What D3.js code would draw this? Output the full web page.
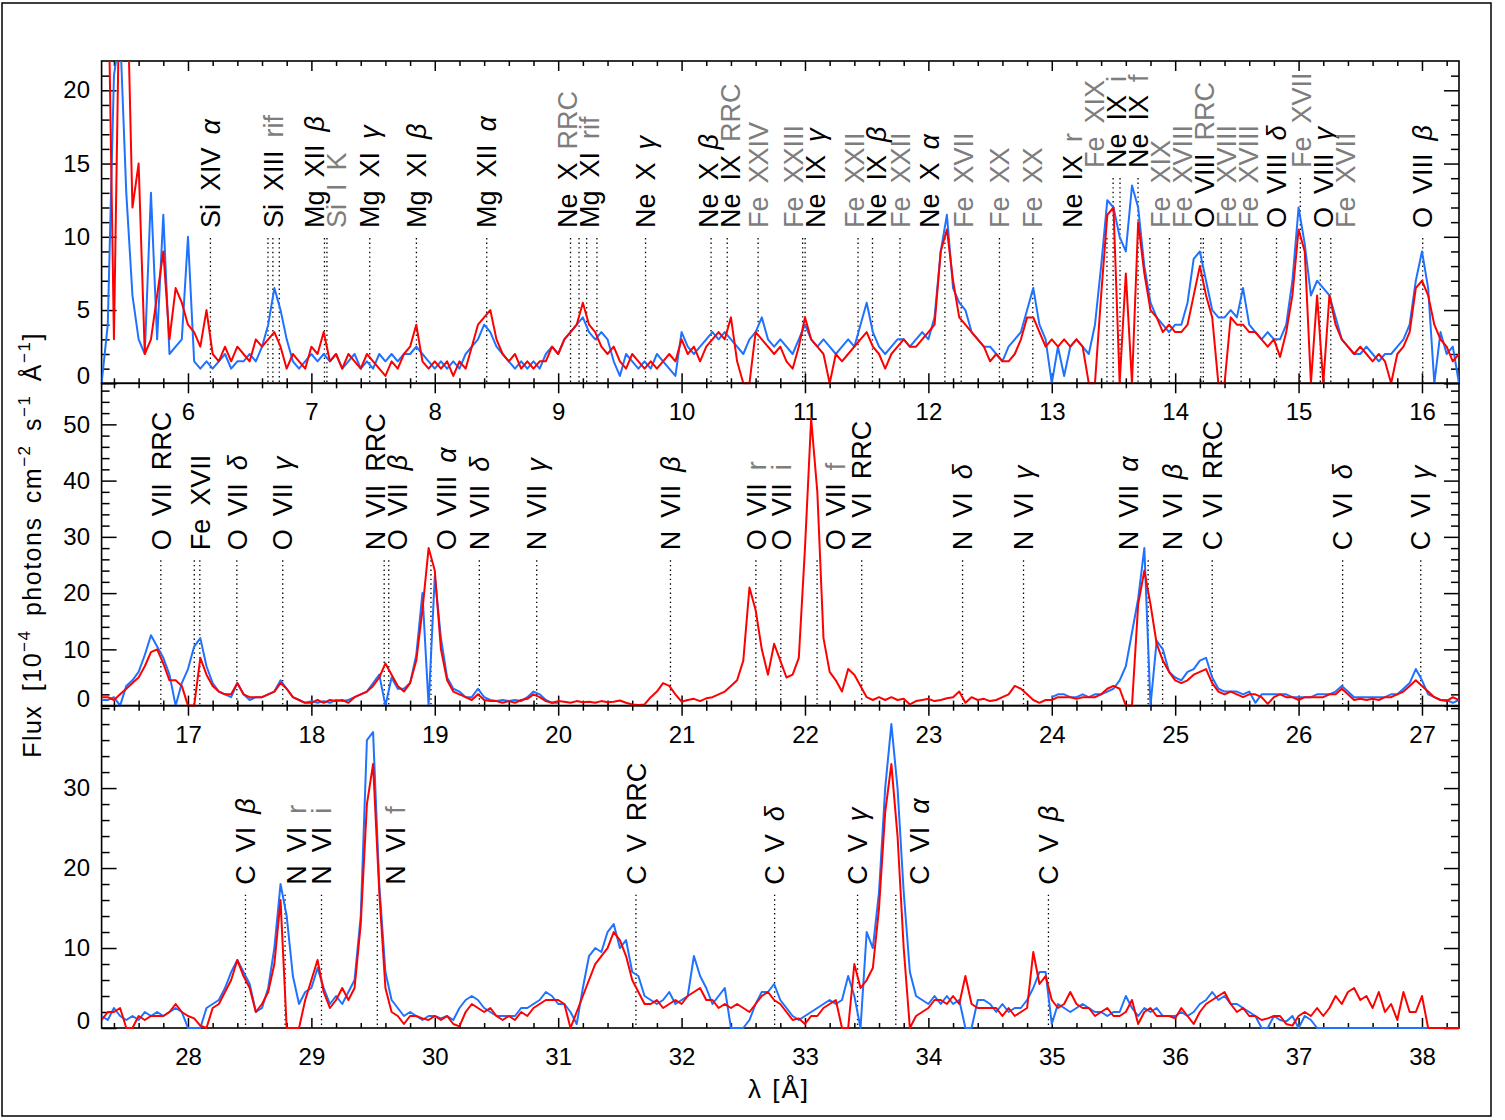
<!DOCTYPE html>
<html>
<head>
<meta charset="utf-8">
<script src="https://cdn.jsdelivr.net/npm/d3@7/dist/d3.min.js"></script>
<style>
  body { margin: 0; background: #fff; }
  svg { display: block; }
</style>
</head>
<body>
<svg id="chart" width="1505" height="1120"></svg>
<script>
// ---- data -------------------------------------------------------------
// wavelength range of each panel (Å); spectra are sampled every binWidth
const panelRanges = [[5.3, 16.3], [16.3, 27.3], [27.3, 38.3]];
const binWidth = 0.05;
const yMaxes = [22, 57.3, 40.3];

const xTicks1 = [6, 7, 8, 9, 10, 11, 12, 13, 14, 15, 16];
const xTicks2 = [17, 18, 19, 20, 21, 22, 23, 24, 25, 26, 27];
const xTicks3 = [28, 29, 30, 31, 32, 33, 34, 35, 36, 37, 38];
const yTicks1 = [0, 5, 10, 15, 20];
const yTicks2 = [0, 10, 20, 30, 40, 50];
const yTicks3 = [0, 10, 20, 30];

// flux in 1e-4 photons cm^-2 s^-1 Å^-1, first value at the panel's start
const blueFlux1 = [
  0,4,21,24,13,6,3,2,13,3,              // 5.30
  11.5,2,2.5,3,10,1.5,1,1.5,1,1.5,      // 5.80
  2,1,1.5,1.5,2,1.5,2.5,4,6.5,5,        // 6.30
  3,1.5,1,1.5,2,1.5,2,1.5,2,1,          // 6.80
  1.5,2,1,1.5,1,2,1.5,2,1.5,2,          // 7.30
  2,2.5,2,1.5,1,1.5,1,1.5,1,2,          // 7.80
  2.5,3,4,3.5,2.5,2,1.5,1,1.5,1,        // 8.30
  1.5,1,2,2.5,2,3,3.5,4,4.5,3.5,        // 8.80
  3,3.5,3,1.5,0.5,2,1.5,1,1.5,1,        // 9.30
  2,1.5,1,0.5,3.5,2.5,2,2.5,3,3.5,      // 9.80
  3,3.5,3,2.5,2,3,3.5,4.5,3,2.5,        // 10.30
  3,2.5,2,3,4,3,2.5,3,2.5,2,            // 10.80
  2.5,3,2.5,4,5.5,3.5,2.5,2,2.5,3,      // 11.30
  3,2.5,3,3.5,3,4.5,9,11.5,6.5,5.5,     // 11.80
  5,3.5,3,2.5,2.5,2,1.5,2.5,3,3.5,      // 12.30
  5,6.5,4,3,0,2.5,0.5,2.5,3,2.5,        // 12.80
  2,4,8,12.5,12,10,9,13.5,12,8,         // 13.30
  5.5,4.5,4,3.5,4,4,5.5,8.5,9,7,        // 13.80
  5,4.5,4.5,5,4.5,6.5,4,3.5,3,3.5,      // 14.30
  3,3,4,7,12,9.5,6,7,6.5,6,             // 14.80
  4.5,3,2.5,2,2,2.5,2,1.5,2,2,          // 15.30
  2.5,3,4,7,9,6.5,0,3.5,2,2.5,          // 15.80
  0                                     // 16.30
];
const redFlux1 = [
  26,30,3,30,30,12,15,2,3,6,            // 5.30
  9,3,6.5,5.5,4,3.5,2.5,5,2,1.5,        // 5.80
  2.5,1.5,2.5,2,1.5,3,2.5,3,3.5,2.5,    // 6.30
  1,2,1.5,1,2.5,2,3.5,1.5,2,1,          // 6.80
  2,1.5,1,2,1.5,1,0.5,1.5,1,2,          // 7.30
  2.5,4,1.5,1,1.5,1,1.5,0.5,1.5,1,      // 7.80
  2.5,4,4.5,5,3,2,1.5,2,1,1.5,          // 8.30
  1,1.5,1.5,2.5,2,3,3.5,4,5.5,4,        // 8.80
  3.5,2.5,2,2.5,1.5,1,2,1.5,1,1.5,      // 9.30
  1,1.5,2,1.5,3,2,2.5,1.5,2.5,3,        // 9.80
  3.5,3,4.5,1.5,0,0,3.5,3,2.5,2,        // 10.30
  2.5,1.5,1,2.5,4.5,3,2.5,2,0,2,        // 10.80
  1.5,2,2.5,3,3.5,2.5,2,1,2,2.5,        // 11.30
  3,2.5,2.5,3,3.5,4,9,10.5,7,4.5,       // 11.80
  4,3.5,3,2.5,1.5,2,1.5,1.5,2,3,        // 12.30
  4.5,4.5,3.5,2.5,3,2.5,3,2.5,3,2.5,    // 12.80
  0,0,6,11.5,12,0,7.5,0,11,7.5,         // 13.30
  5,4.5,3.5,4,3.5,3.5,4,6,8,6,          // 13.80
  4.5,0,0,4.5,4,4,3.5,3.5,3,2.5,        // 14.30
  3,1.8,3.5,6,10.5,9,0,6,0,6,           // 14.80
  4,3,2.5,2,2.5,2,1.5,2,1.5,0,          // 15.30
  2,2.5,3.5,6.5,7,6,4,3,2.5,1.5,        // 15.80
  2                                     // 16.30
];

const blueFlux2 = [
  1,1,1.5,0,3.5,4.5,6,9,12.5,10.5,      // 16.30
  8.5,5.5,0,4,6.5,10.5,12,7,4,2.5,      // 16.80
  2,1.5,4,2,1,1.5,1.5,2,2.5,4.5,        // 17.30
  3,1.5,1,0.5,0.8,0.5,0.8,0.5,1,0.8,    // 17.80
  1,1.5,2,2.5,4,5.5,0,5,3,3,            // 18.30
  4,9,20,0,23,12,5,3,2.5,1.5,           // 18.80
  1.5,3,1.5,1,0.8,1,0.8,1,0.8,1.5,      // 19.30
  2.5,2,1,0.5,0.5,null,null,null,null,null,            // 19.80
  null,null,null,null,null,null,null,null,null,null,   // 20.30
  null,null,null,null,null,null,null,null,null,null,   // 20.80
  null,null,null,null,null,null,null,null,null,null,   // 21.30
  null,null,null,null,null,null,null,null,null,null,   // 21.80
  null,null,null,null,null,null,null,null,null,null,   // 22.30
  null,null,null,null,null,null,null,null,null,null,   // 22.80
  null,null,null,null,null,null,null,null,null,null,   // 23.30
  null,null,null,null,1.5,2,2,1.5,1.5,2,               // 23.80
  1.5,2,2,2.5,3,4.5,7,13,19,28,         // 24.30
  0,11.5,10,6,5,4.5,6,6.5,8,8.5,        // 24.80
  5,3,2.5,2.5,2.5,2,2.5,0.5,2,2,        // 25.30
  2,2,2,1.5,1.5,1.5,1.5,2,2,2,          // 25.80
  2.5,3.5,2.5,1.5,1.5,1.5,1.5,1.5,1.5,2, // 26.30
  2,3,4,6.5,4.5,2,1.5,1,1,0.5,          // 26.80
  1                                     // 27.30
];
const redFlux2 = [
  1.5,1.5,1,2,3,4,5,7,9.5,10,           // 16.30
  7.5,4.5,4.5,3.5,0,0,8.5,5.5,3.5,2.5,  // 16.80
  2,2,4,2,1.5,1.5,1.5,2,2.5,4,          // 17.30
  3,1.5,1,0.5,0.5,1,0.5,1,0.8,1,        // 17.80
  0.5,1.5,2,2.5,3.5,5,7.5,5.5,3.5,2.5,  // 18.30
  4,8,17,28,24,10,4.5,2.5,2,1.5,        // 18.80
  1,2,1,0.8,0.8,0.5,0.8,0.5,1,1.2,      // 19.30
  2,1.5,0.8,0.5,0.8,0.7,0.5,0.8,0.6,0.7, // 19.80
  0.5,0.8,0.6,0.7,0.9,0.5,0.2,0.1,0.2,1.5, // 20.30
  2.5,4,3.5,2,0.7,1,1.2,0.8,1.3,1.5,    // 20.80
  2,2.5,3.5,4.5,8,21,17,10,5.5,11,      // 21.30
  8,5,5.5,8.5,28,51,38,12,6,4.5,        // 21.80
  2.5,6.5,5.5,3.5,1.5,1,1.5,1,1.5,1,    // 22.30
  1.2,0.2,0.8,1,1.2,0.8,1,1.3,1.5,2.5,  // 22.80
  0.5,1.5,1,1.2,0.8,1,1.5,2,3.5,3,      // 23.30
  2,1,0.5,1,1,1.5,1.5,1.5,1.2,1.5,      // 23.80
  1.5,1.5,2,3,3.5,3,0,0,18,24,          // 24.30
  18,11,8,6,4.5,4,4.5,5.5,6,6.5,        // 24.80
  4,2.5,2,2.5,2,1.5,2,2,1.5,0.3,        // 25.30
  1.5,2,1.5,1.5,1,1.5,1.5,1.5,1.5,2,    // 25.80
  2,3,2,1,1.2,1,1.2,1,1.5,1.5,          // 26.30
  2,2.5,3.5,4.5,3.5,2.5,1.5,1,0.8,1.5,  // 26.80
  1                                     // 27.30
];

const blueFlux3 = [
  1.5,1,2.5,1.5,1,1.5,1,2,1.5,2,        // 27.30
  1.5,2,2.5,2,0,0,0,2.5,3,3.5,          // 27.80
  5,7,8.5,7,5.5,2,2.5,5,10,18,          // 28.30
  14,6.5,3,4.5,5,7.5,5,3,4,3,           // 28.80
  4.5,6,14,36,37,18,7,3.5,2.5,1.5,      // 29.30
  2,1.5,1,1.5,1.5,1.2,1.5,1,2.5,3.5,    // 29.80
  4,3.5,2.5,2,1.5,1.5,1.5,1.5,2.5,2.5,  // 30.30
  3,3.5,4.5,4,3,3,2,0.5,5,9,            // 30.80
  10,9.5,12,13,10,11,7,6.5,4,3.5,       // 31.30
  3,3.5,4.5,3,3.5,4,9,6.5,5,3,          // 31.80
  4,5,0,0,0,1,3,4.5,4.5,5.5,            // 32.30
  3.5,2.5,1.5,1,1.5,2,2.5,3,3.5,3,      // 32.80
  3.5,6.5,4,0,12,10,17,30,38,30,        // 33.30
  17,7,4,3.5,3,4,3,4,3,3.5,             // 33.80
  0,0,3.5,3.5,3,2,3,2,2.5,2.5,          // 34.30
  3.5,5,7,7,0.5,3,2.5,2,2.5,3,          // 34.80
  2.5,2,2,1.5,2,2,4,2.5,1.5,2.5,        // 35.30
  2,2.5,1.5,1.5,1.5,2,1.5,2,3,3.5,      // 35.80
  4.5,3.5,4,3,3,2.5,2,1.5,0,0,          // 36.30
  1.5,1,0.8,1.5,0,1.5,1,0,0,0,          // 36.80
  0,0,0,0,0,0,0,0,0,0,                  // 37.30
  0,0,0,0,0,0,0,0,0,0,                  // 37.80
  0                                     // 38.30
];
const redFlux3 = [
  1,2,2,2.5,0,0,1.5,1,1.5,1.5,          // 27.30
  1.5,2,3,2,1.5,1.2,0.3,0,2.5,3,        // 27.80
  4.5,6,8.5,6.5,5,2,3,4.5,8,16,         // 28.30
  0,0,0,3.5,6,8.5,4.5,2.5,3.5,5,        // 28.80
  3.5,5,13,28,33,17,5,2,1.5,0.5,        // 29.30
  1.5,1.5,1.2,1,1.5,1,1.5,0.5,0.2,2,    // 29.80
  3,2.5,2,2.5,1.5,1,1.5,1,2,1.5,        // 30.30
  2.5,3,3.5,3.5,3.5,3,0,2,4,6,          // 30.80
  8,9,10,12,11,9,6,4.5,3,3,             // 31.30
  3.5,2.5,3,3.5,3,4,4.5,5,3.5,3.5,      // 31.80
  2.5,3,2.5,3,2.5,2,3,4,4.5,3.5,        // 32.30
  3,2,1,1.2,0.5,1.5,1.5,2.5,3,3.5,      // 32.80
  0,0,8,5,6,7.5,15,27,33,24,            // 33.30
  10,0,1.5,2,2.5,3.5,3.5,3,4,3,         // 33.80
  6.5,3,2.5,2.5,2.5,2.5,1.5,2.5,1.5,2,  // 34.30
  2.5,9.5,5.5,6.5,3.5,2.5,3,4.5,3,2.5,  // 34.80
  2.5,1.5,2,2.5,1.5,1.5,2,3.5,0.5,2,    // 35.30
  2.5,1.5,1.5,1.5,1.2,2.5,1.5,0.5,2,3,  // 35.80
  3.5,4,4.5,3,2,2.5,1.5,1.5,1,1.2,      // 36.30
  1.5,1.5,0.5,0.3,1.5,2,1.5,2.5,1.5,2.5, // 36.80
  4,3,4.5,5,3.5,4,2.5,4.5,2,3,          // 37.30
  1,4.5,2,2,4,0,0,0,0,0,                // 37.80
  0                                     // 38.30
];

// identified lines (Å) and their labels ('' = marker only)
const lineWave1 = [6.182, 6.648, 6.688, 6.740, 7.106, 7.126, 7.473, 7.851, 8.421, 9.10, 9.169, 9.231, 9.314,
  9.708, 10.239, 10.37, 10.62, 10.981, 11.001, 11.43, 11.547, 11.77, 12.134, 12.266, 12.576, 12.846,
  13.447, 13.497, 13.553, 13.699, 13.795, 13.953, 14.208, 14.228, 14.373, 14.534, 14.821, 15.014,
  15.176, 15.261, 16.006];
const lineName1 = ['Si XIV α', '', 'Si XIII rif', '', 'Mg XII β', 'Si I K', 'Mg XI γ', 'Mg XI β', 'Mg XII α',
  'Ne X RRC', '', 'Mg XI rif', '', 'Ne X γ', 'Ne X β', 'Ne IX RRC', 'Fe XXIV', 'Fe XXIII', 'Ne IX γ',
  'Fe XXII', 'Ne IX β', 'Fe XXII', 'Ne X α', 'Fe XVII', 'Fe XX', 'Fe XX', 'Ne IX r', 'Fe XIX', 'Ne IX i',
  'Ne IX f', 'Fe XIX', 'Fe XVIII', '', 'O VIII RRC', 'Fe XVIII', 'Fe XVIII', 'O VIII δ', 'Fe XVII',
  'O VIII γ', 'Fe XVII', 'O VIII β'];
const lineWave2 = [16.78, 17.051, 17.096, 17.396, 17.768, 18.59, 18.627, 18.969, 19.361, 19.826, 20.910,
  21.602, 21.804, 22.098, 22.46, 23.277, 23.771, 24.781, 24.898, 25.30, 26.357, 26.990];
const lineName2 = ['O VII RRC', '', 'Fe XVII', 'O VII δ', 'O VII γ', 'N VII RRC', 'O VII β', 'O VIII α',
  'N VII δ', 'N VII γ', 'N VII β', 'O VII r', 'O VII i', 'O VII f', 'N VI RRC', 'N VI δ', 'N VI γ',
  'N VII α', 'N VI β', 'C VI RRC', 'C VI δ', 'C VI γ'];
const lineWave3 = [28.466, 28.787, 29.082, 29.534, 31.63, 32.754, 33.426, 33.736, 34.973];
const lineName3 = ['C VI β', 'N VI r', 'N VI i', 'N VI f', 'C V RRC', 'C V δ', 'C V γ', 'C VI α', 'C V β'];

// ---- layout -----------------------------------------------------------
const FONT = "'Liberation Sans', Arial, sans-serif";
const FS_TICK = 24, FS_LABEL = 27;
const BLUE = '#1f72ff', RED = '#ff0000', GRAY = '#7d7d7d';
const plotLeft = 101.6, plotRight = 1459;
const panelTops = [61, 383.3, 705.7], panelH = 322.3;
const labelDrop = [167, 167, 179];   // label foot below panel top
const RAISE = 60;
const GAP = 22;

const svg = d3.select('#chart');

[blueFlux1, redFlux1, blueFlux2, redFlux2, blueFlux3, redFlux3].forEach((a, i) => {
  if (a.length !== 221) throw new Error('series ' + i + ' has ' + a.length + ' values');
});

svg.append('rect')
  .attr('x', 2).attr('y', 3).attr('width', 1489).attr('height', 1113)
  .attr('fill', 'none').attr('stroke', '#000').attr('stroke-width', 1.5);

const panels = [
  { range: panelRanges[0], yMax: yMaxes[0], xTicks: xTicks1, yTicks: yTicks1, yMinor: 1,
    blue: blueFlux1, red: redFlux1, waves: lineWave1, names: lineName1 },
  { range: panelRanges[1], yMax: yMaxes[1], xTicks: xTicks2, yTicks: yTicks2, yMinor: 2,
    blue: blueFlux2, red: redFlux2, waves: lineWave2, names: lineName2 },
  { range: panelRanges[2], yMax: yMaxes[2], xTicks: xTicks3, yTicks: yTicks3, yMinor: 2,
    blue: blueFlux3, red: redFlux3, waves: lineWave3, names: lineName3 },
];

panels.forEach(drawPanel);

// y title
const yTitle = svg.append('text')
  .attr('transform', 'translate(41,545) rotate(-90)')
  .attr('text-anchor', 'middle')
  .attr('font-family', FONT).attr('font-size', 25)
  .attr('letter-spacing', 1.5).attr('word-spacing', 5);
[['Flux [10', 0], ['−4', 1], [' photons cm', 0], ['−2', 1], [' s', 0], ['−1', 1], [' Å', 0], ['−1', 1], [']', 0]]
  .forEach(([t, sup]) => {
    const ts = yTitle.append('tspan').text(t);
    if (sup) ts.attr('font-size', 17).attr('dy', -11);
    else if (t !== 'Flux [10') ts.attr('dy', 11);
  });

// x title
svg.append('text')
  .attr('x', 779).attr('y', 1098)
  .attr('text-anchor', 'middle')
  .attr('font-family', FONT).attr('font-size', 26).attr('letter-spacing', 2)
  .text('λ [Å]');

// ---- helpers ----------------------------------------------------------
function drawPanel(p, i) {
  const top = panelTops[i], bottom = top + panelH;
  const x = d3.scaleLinear().domain(p.range).range([plotLeft, plotRight]);
  const y = d3.scaleLinear().domain([0, p.yMax]).range([bottom, top]);
  const g = svg.append('g');

  const clipId = 'clip' + i;
  svg.append('clipPath').attr('id', clipId).append('rect')
    .attr('x', plotLeft).attr('y', top).attr('width', plotRight - plotLeft).attr('height', panelH + 1.5);

  const toPts = arr => arr.map((v, k) => ({ w: p.range[0] + k * binWidth, v }));
  const bluePts = toPts(p.blue), redPts = toPts(p.red);

  const baseBottom = top + labelDrop[i];
  const sky = skyline([bluePts, redPts], x, y);
  const labels = layoutLabels(p.waves, p.names, x, sky, baseBottom);

  // dotted markers
  const markers = p.waves.map((w, k) => {
    const lab = labels.find(d => d.k === k);
    return { w, y0: (lab ? lab.bottom : baseBottom) + 10 };
  });
  g.append('g').selectAll('line').data(markers).join('line')
    .attr('x1', d => x(d.w)).attr('x2', d => x(d.w))
    .attr('y1', d => d.y0).attr('y2', bottom)
    .attr('stroke', '#000').attr('stroke-width', 1.3).attr('stroke-dasharray', '1.4,3.2');

  // frame and ticks
  g.append('rect')
    .attr('x', plotLeft).attr('y', top).attr('width', plotRight - plotLeft).attr('height', panelH)
    .attr('fill', 'none').attr('stroke', '#000').attr('stroke-width', 1.6);

  const minorX = d3.range(Math.ceil(p.range[0] / 0.2) * 0.2, p.range[1], 0.2)
    .filter(v => Math.abs(v - Math.round(v)) > 0.01);
  const minorY = d3.range(0, p.yMax, p.yMinor).filter(v => !p.yTicks.includes(v));

  const axes = [
    [d3.axisBottom(x).tickValues(p.xTicks).tickSize(-10).tickPadding(20).tickFormat(d3.format('d')), 0, bottom],
    [d3.axisBottom(x).tickValues(minorX).tickSize(-5).tickFormat(''), 0, bottom],
    [d3.axisTop(x).tickValues(p.xTicks).tickSize(-10).tickFormat(''), 0, top],
    [d3.axisTop(x).tickValues(minorX).tickSize(-5).tickFormat(''), 0, top],
    [d3.axisLeft(y).tickValues(p.yTicks).tickSize(-15).tickPadding(11.6).tickFormat(d3.format('d')), plotLeft, 0],
    [d3.axisLeft(y).tickValues(minorY).tickSize(-8).tickFormat(''), plotLeft, 0],
    [d3.axisRight(y).tickValues(p.yTicks).tickSize(-15).tickFormat(''), plotRight, 0],
    [d3.axisRight(y).tickValues(minorY).tickSize(-8).tickFormat(''), plotRight, 0],
  ];
  axes.forEach(([ax, tx, ty]) => {
    const a = g.append('g').attr('transform', `translate(${tx},${ty})`).call(ax.tickSizeOuter(0));
    a.select('.domain').remove();
    a.selectAll('.tick line').attr('stroke', '#000').attr('stroke-width', 1.5);
    a.selectAll('.tick text').attr('font-size', FS_TICK).attr('font-family', FONT).attr('fill', '#000');
    a.selectAll('.tick text').filter(d => d === 0).attr('y', -7);
  });

  // spectra
  const line = d3.line().defined(d => d.v != null).x(d => x(d.w)).y(d => y(d.v));
  [[bluePts, BLUE], [redPts, RED]].forEach(([pts, col]) => {
    g.append('path').datum(pts)
      .attr('d', line)
      .attr('fill', 'none').attr('stroke', col).attr('stroke-width', 2)
      .attr('stroke-linejoin', 'round')
      .attr('clip-path', `url(#${clipId})`);
  });

  // line labels: first panel greys Fe lines and qualifiers, the others only r/i/f
  g.append('g').selectAll('text').data(labels).join('text')
    .attr('transform', d => `translate(${d.x + FS_LABEL * 0.36},${d.bottom}) rotate(-90)`)
    .attr('font-family', FONT).attr('font-size', FS_LABEL)
    .each(function (d) {
      const t = d3.select(this);
      const tokens = d.name.split(' ');
      const allGray = i === 0 && (tokens[0] === 'Fe' || (tokens[0] === 'Si' && tokens[1] === 'I'));
      tokens.forEach((tok, j) => {
        const greek = /[α-ω]/.test(tok);
        const grayTok = j >= 2 && !greek && (i === 0 || /^[a-z]+$/.test(tok));
        t.append('tspan')
          .attr('dx', j ? 13 : 0)
          .attr('fill', allGray || grayTok ? GRAY : '#000')
          .attr('font-style', greek ? 'italic' : null)
          .text(tok);
      });
    });
}

// highest drawn point (smallest pixel y) in every pixel column
function skyline(series, x, y) {
  const sky = new Array(1510).fill(Infinity);
  series.forEach(pts => {
    for (let k = 1; k < pts.length; k++) {
      const a = pts[k - 1], b = pts[k];
      if (a.v == null || b.v == null) continue;
      const xa = x(a.w), xb = x(b.w), ya = y(a.v), yb = y(b.v);
      for (let px = Math.floor(xa); px <= Math.ceil(xb); px++) {
        const t = Math.max(0, Math.min(1, (px - xa) / (xb - xa)));
        sky[px] = Math.min(sky[px], ya + (yb - ya) * t);
      }
    }
  });
  return sky;
}

function blocked(sky, xc, foot) {
  for (let px = Math.floor(xc - 14); px <= Math.ceil(xc + 14); px++) {
    if (sky[px] < foot + 6) return true;
  }
  return false;
}

// spread overlapping labels evenly around the mean of their wanted positions
function dodge(list, gap) {
  list.sort((a, b) => a.lx - b.lx);
  let clusters = list.map(d => ({ items: [d], center: d.want }));
  let merged = true;
  while (merged) {
    merged = false;
    for (let i = 0; i < clusters.length - 1; i++) {
      const a = clusters[i], b = clusters[i + 1];
      const aEnd = a.center + (a.items.length - 1) * gap / 2;
      const bStart = b.center - (b.items.length - 1) * gap / 2;
      if (bStart - aEnd < gap) {
        const items = a.items.concat(b.items);
        clusters.splice(i, 2, { items, center: d3.mean(items, d => d.want) });
        merged = true;
        break;
      }
    }
  }
  clusters.forEach(c => c.items.forEach((d, j) => {
    d.x = c.center + (j - (c.items.length - 1) / 2) * gap;
  }));
}

function layoutLabels(waves, names, x, sky, foot) {
  const items = [];
  waves.forEach((w, k) => { if (names[k]) items.push({ k, w, name: names[k], lx: x(w) }); });
  // step sideways off the spectrum when a short move is enough
  items.forEach(d => {
    d.want = d.lx;
    if (blocked(sky, d.lx, foot)) {
      for (let s = 1; s <= 26; s++) {
        if (!blocked(sky, d.lx - s, foot)) { d.want = d.lx - s; break; }
        if (!blocked(sky, d.lx + s, foot)) { d.want = d.lx + s; break; }
      }
    }
  });
  dodge(items, GAP);
  // a label still on the spectrum moves aside if its neighbours allow, otherwise it is lifted
  items.forEach((d, n) => {
    d.bottom = foot;
    if (!blocked(sky, d.x, foot)) return;
    const lo = n > 0 ? items[n - 1].x + GAP - 2 : -Infinity;
    const hi = n < items.length - 1 ? items[n + 1].x - GAP + 2 : Infinity;
    for (let s = 1; s <= 26; s++) {
      if (d.x - s >= lo && !blocked(sky, d.x - s, foot)) { d.x -= s; return; }
      if (d.x + s <= hi && !blocked(sky, d.x + s, foot)) { d.x += s; return; }
    }
    d.bottom = foot - RAISE;
  });
  return items;
}
</script>
</body>
</html>
